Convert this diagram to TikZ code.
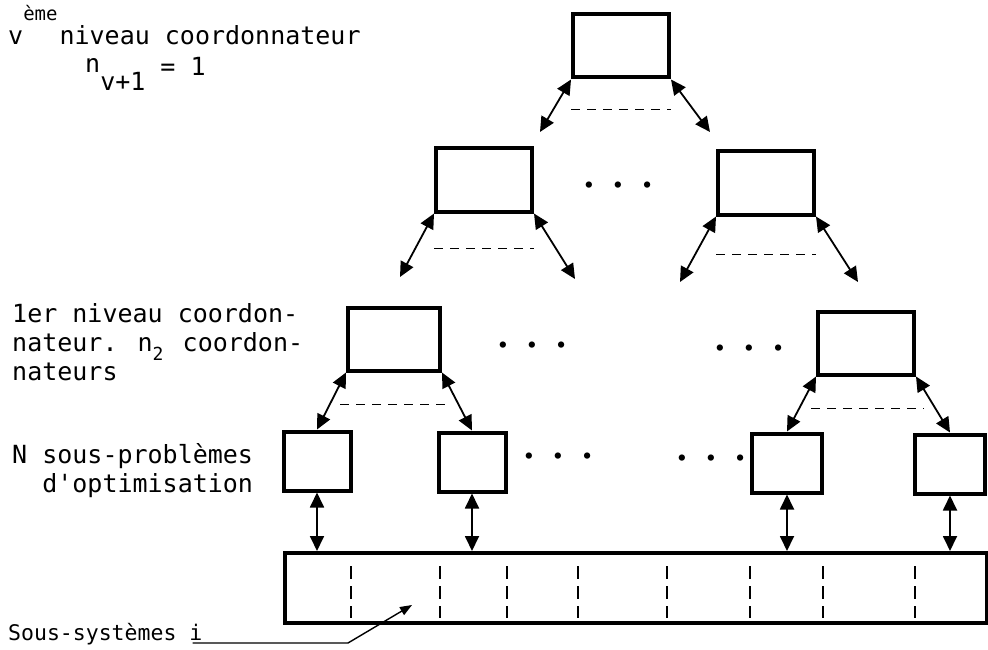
\documentclass[tikz,border=0pt]{standalone}
\usepackage{fontspec}
\usepackage{tikz}
\usetikzlibrary{arrows.meta,calc}
\newfontfamily\machine[Ligatures=TeXOff]{DejaVu Sans Mono}
\newcommand{\pts}{\textbullet\hspace{9pt}\textbullet\hspace{9pt}\textbullet}

\begin{document}
\begin{tikzpicture}[x=1pt,y=-1pt,
  coord/.style={draw,line width=4pt,minimum width=96pt,minimum height=63pt,inner sep=0pt},
  sub/.style={draw,line width=4pt,minimum width=67pt,minimum height=59pt,inner sep=0pt},
  biarr/.style={{Triangle[length=15pt,width=14pt]}-{Triangle[length=15pt,width=14pt]},line width=1.8pt},
  dashln/.style={line width=1.6pt,dash pattern=on 9pt off 7pt},
  divln/.style={line width=1.6pt,dash pattern=on 13pt off 7pt},
  lbl/.style={font=\machine\fontsize{25}{29}\selectfont,inner sep=0pt},
  etc/.style={font=\fontsize{28}{28}\selectfont,inner sep=0pt}]
  \useasboundingbox (0,0) rectangle (988,650);
  \node[coord] (top) at (621,46) {};
  \node[coord] (midl) at (484,180) {};
  \node[coord] (midr) at (766,183) {};
  \node[coord,minimum width=92pt] (cl) at (394,339) {};
  \node[coord] (cr) at (866,343) {};
  \node[sub] (s1) at (317,461) {};
  \node[sub] (s2) at (472,462) {};
  \node[sub,minimum width=70pt] (s3) at (787,463) {};
  \node[sub,minimum width=70pt] (s4) at (950,464) {};
  \node[draw,line width=4pt,minimum width=702pt,minimum height=70pt,inner sep=0pt] (strip) at (636,588) {};
  \node[etc] (d1) at (618,187) {\pts};
  \node[etc] (d2) at (532,347) {\pts};
  \node[etc] (d3) at (749,350) {\pts};
  \node[etc] (d4) at (558,458) {\pts};
  \node[etc] (d5) at (711,460) {\pts};
  \coordinate (a1) at (540,132);
  \coordinate (a2) at (710,132);
  \coordinate (b1) at (400,277);
  \coordinate (b2) at (575,279);
  \coordinate (c1) at (680,282);
  \coordinate (c2) at (858,282);
  \draw[biarr] (top.south west) -- (a1);
  \draw[biarr] (top.south east) -- (a2);
  \draw[biarr] (midl.south west) -- (b1);
  \draw[biarr] (midl.south east) -- (b2);
  \draw[biarr] (midr.south west) -- (c1);
  \draw[biarr] (midr.south east) -- (c2);
  \draw[biarr] (cl.south west) -- (s1.north);
  \draw[biarr] (cl.south east) -- (s2.north);
  \draw[biarr] (cr.south west) -- (s3.north);
  \draw[biarr] (cr.south east) -- (s4.north);
  \foreach \s in {s1,s2,s3,s4}
    \draw[biarr] (\s.south) -- (\s.south |- strip.north);
  \draw[dashln] ([yshift=-30pt]top.south west) -- ([yshift=-30pt]top.south east);
  \draw[dashln] ([yshift=-35pt]midl.south west) -- ([yshift=-35pt]midl.south east);
  \draw[dashln] ([yshift=-38pt]midr.south west) -- ([yshift=-38pt]midr.south east);
  \draw[dashln] ([xshift=-6pt,yshift=-32pt]cl.south west) -- ([xshift=8pt,yshift=-32pt]cl.south east);
  \draw[dashln] ([xshift=-5pt,yshift=-32pt]cr.south west) -- ([xshift=8pt,yshift=-32pt]cr.south east);
  \foreach \x in {351,440,507,578,667,750,823,915}
    \draw[divln] (\x,566) -- (\x,618);
  \node[lbl,anchor=base west] (niv) at (8,45) {v\raisebox{24pt}{\machine\fontsize{19}{19}\selectfont ème}\kern2pt niveau coordonnateur};
  \node[lbl,anchor=base west] (nv) at (85,76) {\raisebox{3pt}{n}\raisebox{-15pt}{v+1} = 1};
  \node[lbl,anchor=north west,align=left] (prem) at (12,303) {1er niveau coordon-\\nateur. n\makebox[15pt][l]{\raisebox{-9pt}{\fontsize{18}{18}\selectfont 2}} coordon-\\nateurs};
  \node[lbl,anchor=north west,align=right] (nsp) at (12,443) {N sous-problèmes\\d'optimisation};
  \node[lbl,font=\machine\fontsize{21.5}{26}\selectfont,anchor=base west] (sys) at (8,640) {Sous-systèmes i};
  \coordinate (bend) at (348,643);
  \coordinate (systip) at (412,605);
  \draw[line width=1.4pt,-{Triangle[length=12pt,width=9pt]}] ([xshift=-10pt,yshift=-3pt]sys.base east) -- (bend) -- (systip);
\end{tikzpicture}
\end{document}
